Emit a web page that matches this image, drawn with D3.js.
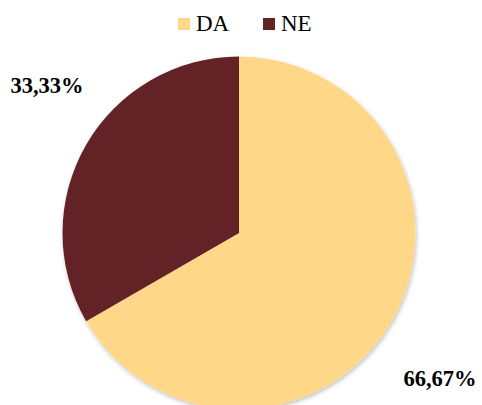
<!DOCTYPE html>
<html>
<head>
<meta charset="utf-8">
<script src="https://cdn.jsdelivr.net/npm/d3@7"></script>
<style>
  html, body { margin: 0; padding: 0; background: #fff; }
  svg { display: block; }
  text { font-family: "Liberation Serif", Tinos, "Times New Roman", Times, serif; }
</style>
</head>
<body>
<svg id="chart"></svg>
<script>
const categories = ["DA", "NE"];
const values = [66.67, 33.33];
const labels = ["66,67%", "33,33%"];
const colors = ["#FFD789", "#632426"];

const width = 482;
const height = 405;
const cx = 239, cy = 233, radius = 176.5;

const svg = d3.select("#chart")
    .attr("width", width)
    .attr("height", height);

const defs = svg.append("defs");
const shadow = defs.append("filter")
    .attr("id", "shadow")
    .attr("x", "-10%").attr("y", "-10%")
    .attr("width", "120%").attr("height", "120%");
shadow.append("feDropShadow")
    .attr("dx", 1).attr("dy", 2)
    .attr("stdDeviation", 2)
    .attr("flood-color", "#000")
    .attr("flood-opacity", 0.25);

const color = d3.scaleOrdinal().domain(categories).range(colors);

const pie = d3.pie().sort(null).value(d => d.value);
const arcs = pie(categories.map((c, i) => ({cat: c, value: values[i], label: labels[i]})));
const arc = d3.arc().innerRadius(0).outerRadius(radius);

const g = svg.append("g")
    .attr("transform", `translate(${cx},${cy})`)
    .attr("filter", "url(#shadow)");

g.selectAll("path")
    .data(arcs)
    .enter().append("path")
    .attr("d", arc)
    .attr("fill", d => color(d.data.cat));

// data labels sit outside the pie, at the slice's outer side
const labelPos = [{x: 440, y: 386}, {x: 47, y: 93}];
svg.append("g")
    .selectAll("text")
    .data(arcs)
    .enter().append("text")
    .attr("x", (d, i) => labelPos[i].x)
    .attr("y", (d, i) => labelPos[i].y)
    .attr("text-anchor", "middle")
    .attr("font-weight", "bold")
    .attr("font-size", 22.5)
    .attr("fill", "#000")
    .text(d => d.data.label);

// legend
const legendX = [178, 263];
const legend = svg.append("g")
    .selectAll("g")
    .data(categories)
    .enter().append("g")
    .attr("transform", (d, i) => `translate(${legendX[i]},18)`);

legend.append("rect")
    .attr("width", 12)
    .attr("height", 12)
    .attr("fill", d => color(d));

legend.append("text")
    .attr("x", 18)
    .attr("y", 13)
    .attr("font-size", 23)
    .attr("fill", "#000")
    .text(d => d);
</script>
</body>
</html>
